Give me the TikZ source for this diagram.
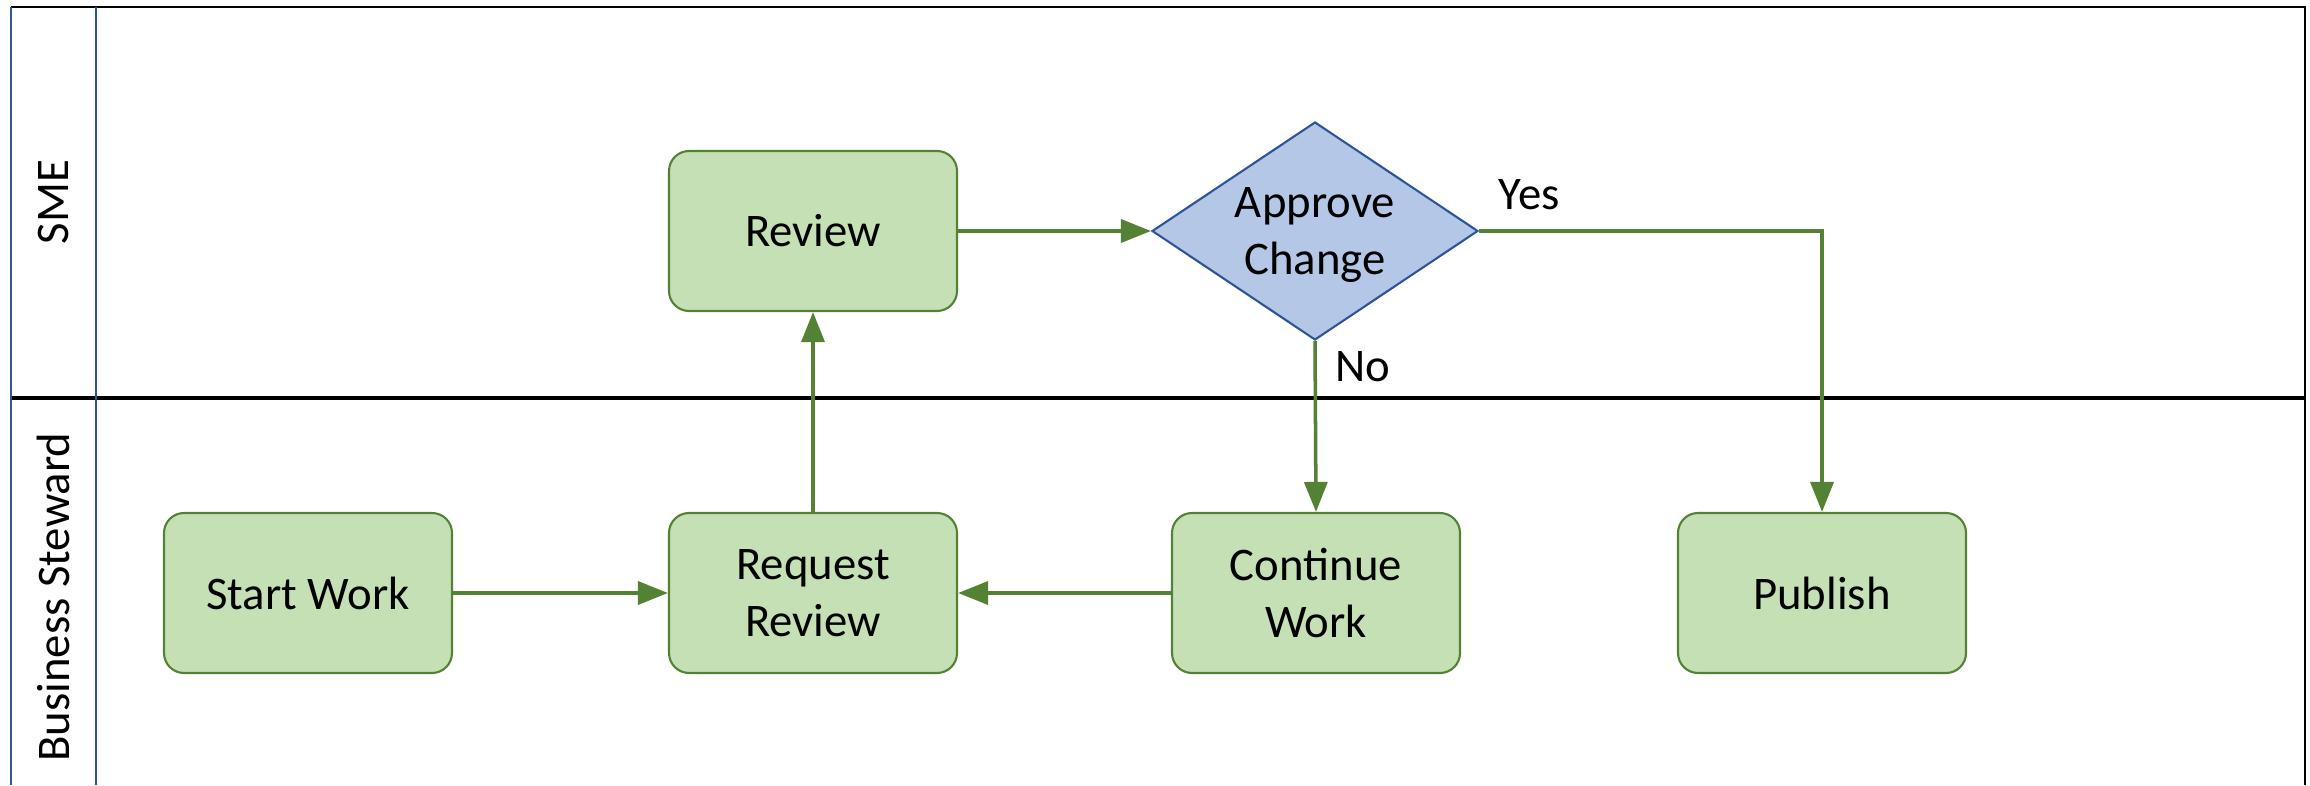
\documentclass[tikz,border=0pt]{standalone}
\usepackage{fontspec}
\setmainfont{Carlito}
\usetikzlibrary{arrows.meta,shapes.geometric}
\definecolor{boxfill}{HTML}{C5E0B4}
\definecolor{boxline}{HTML}{548235}
\definecolor{decfill}{HTML}{B4C7E7}
\definecolor{decline}{HTML}{2F5597}
\begin{document}
\begin{tikzpicture}[
    font=\fontsize{13.3}{16.2}\selectfont,
    task/.style={draw=boxline, fill=boxfill, line width=0.6pt, rounded corners=0.2cm,
      minimum width=2.88cm, minimum height=1.60cm, align=center},
    decision/.style={diamond, draw=decline, fill=decfill, line width=0.6pt,
      minimum width=3.26cm, minimum height=2.18cm, inner sep=0pt, aspect=1.5, align=center},
    flow/.style={draw=boxline, line width=1pt, -{Triangle[length=3mm,width=2.3mm]}}
  ]
  \useasboundingbox (0,0) rectangle (23.1,7.85);
  \draw[line width=0.8pt] (0.11,7.78) -- (23.05,7.78) -- (23.05,0);
  \draw[line width=0.9pt] (0.11,3.87) -- (23.05,3.87);
  \draw[decline, line width=0.6pt] (0.11,7.78) -- (0.11,0) (0.96,7.78) -- (0.96,0);
  \node[rotate=90] (sme) at (0.535,5.83) {SME};
  \node[rotate=90] (steward) at (0.535,1.88) {Business Steward};
  \draw
    (3.08,1.92) node[task] (start) {Start Work}
    (8.13,1.92) node[task] (reqrev) {Request\\Review}
    (13.16,1.92) node[task] (cont) {Continue\\Work}
    (18.22,1.92) node[task] (publish) {Publish}
    (8.13,5.54) node[task] (review) {Review}
    (13.15,5.54) node[decision] (approve) {Approve\\\raisebox{0pt}[\height][0pt]{Change}};
  \begin{scope}[flow]
    \draw (start) to (reqrev);
    \draw (reqrev) to (review);
    \draw (review) to (approve);
    \draw (approve.south) to (cont.north);
    \draw (cont) to (reqrev);
    \draw (approve.east) -| (publish.north);
  \end{scope}
  \node[anchor=base west, inner sep=0pt] (yes) at (14.98,5.75) {Yes};
  \node[anchor=base west, inner sep=0pt] (no) at (13.35,4.03) {No};
\end{tikzpicture}
\end{document}
